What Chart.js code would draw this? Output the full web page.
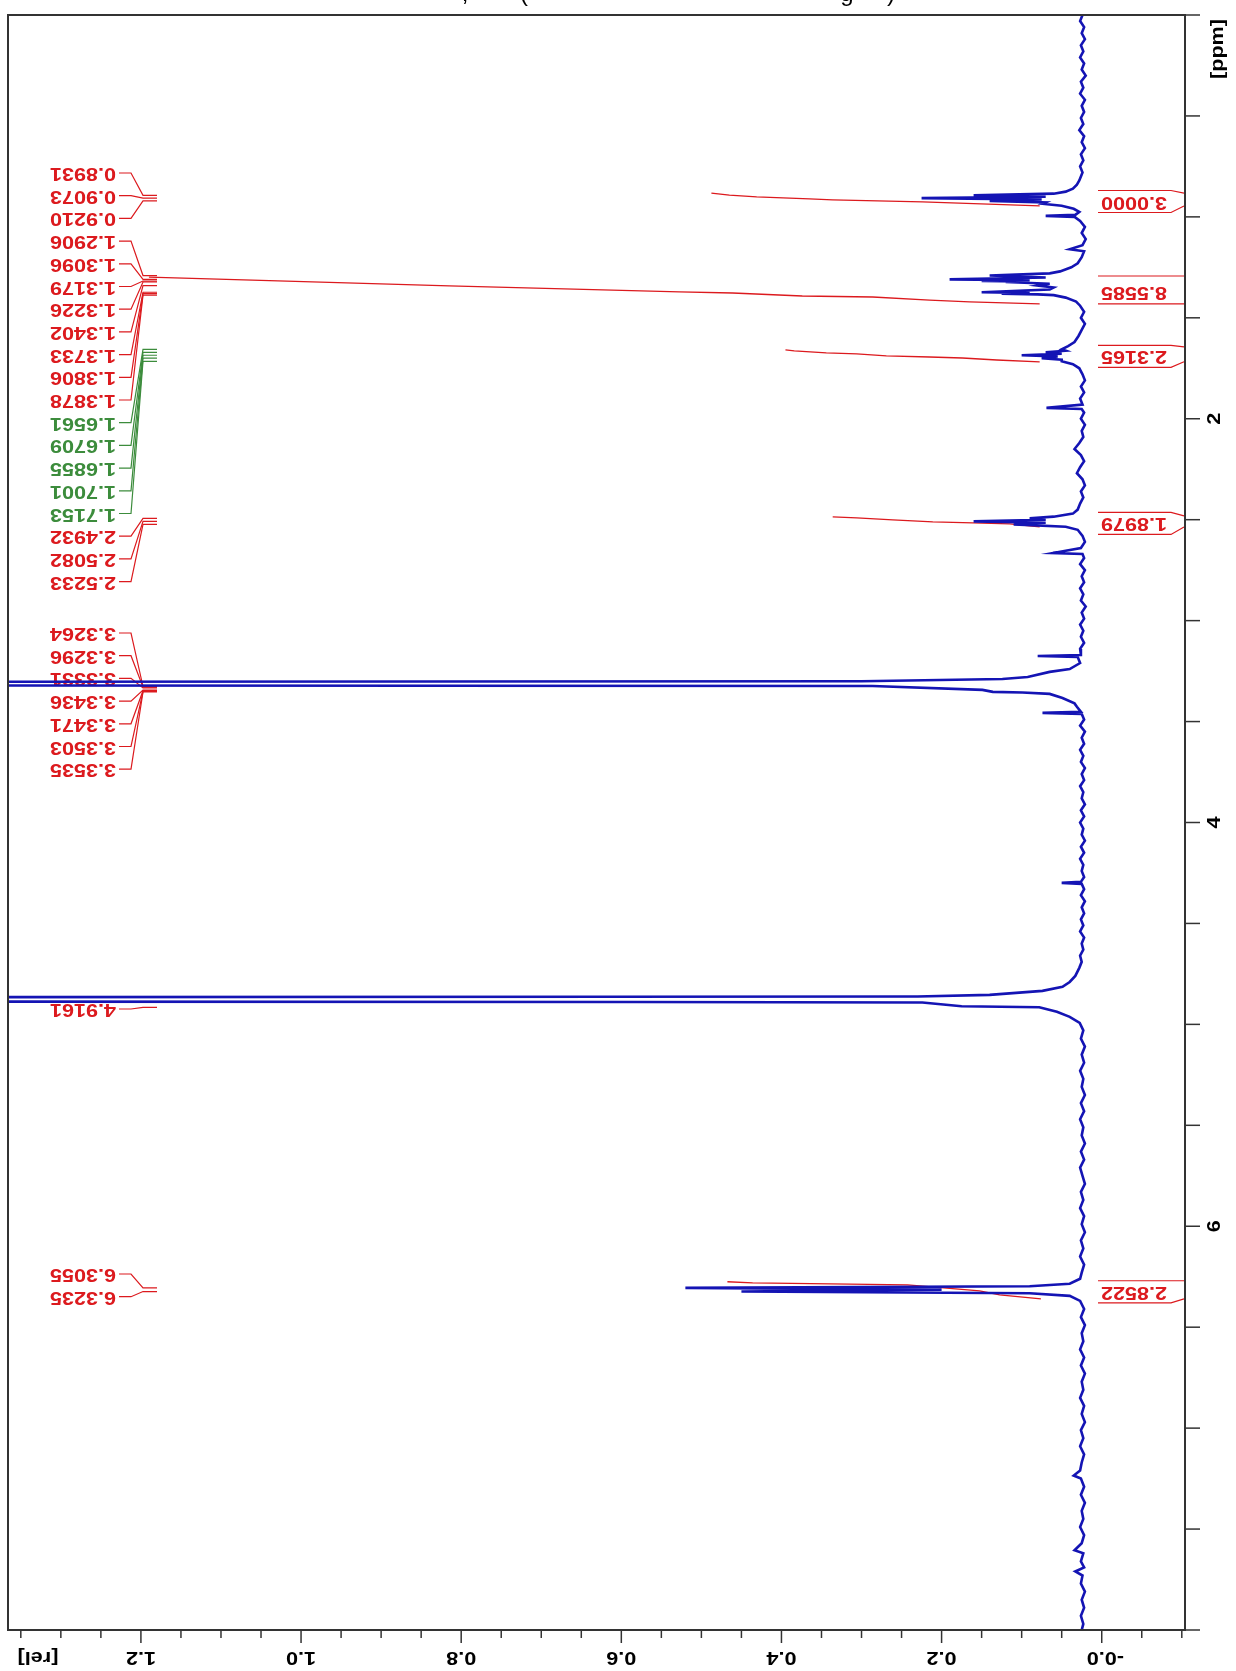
<!DOCTYPE html>
<html>
<head>
<meta charset="utf-8">
<script src="https://cdn.jsdelivr.net/npm/chart.js@4.4.1/dist/chart.umd.min.js"></script>
<style>
  html, body { margin: 0; padding: 0; background: #fff; }
  canvas { display: block; }
</style>
</head>
<body>
<canvas id="chart" width="1236" height="1671"></canvas>
<script>
// spectrum trace: chemical shift (ppm) and relative intensity
const specPpm = [
  0.00, 0.03, 0.06, 0.09, 0.12, 0.15, 0.18, 0.21, 0.24, 0.27,
  0.30, 0.33, 0.36, 0.39, 0.42, 0.45, 0.48, 0.51, 0.54, 0.57,
  0.60, 0.63, 0.66, 0.69, 0.72, 0.75, 0.78, 0.80, 0.82, 0.84,
  0.86, 0.875, 0.885, 0.8931, 0.900, 0.9073, 0.914, 0.9210, 0.928, 0.935,
  0.945, 0.96, 0.975, 0.99, 0.995, 1.00,
  1.02, 1.05, 1.08, 1.11, 1.14, 1.16, 1.17, 1.20, 1.23, 1.25,
  1.27, 1.28, 1.2906, 1.300, 1.3096, 1.314, 1.3179, 1.320, 1.3226, 1.331,
  1.3402, 1.350, 1.360, 1.3733, 1.377, 1.3806, 1.384, 1.3878, 1.40, 1.42,
  1.44, 1.47, 1.50, 1.53, 1.56, 1.59, 1.62, 1.64,
  1.6561, 1.663, 1.6709, 1.678, 1.6855, 1.692, 1.7001, 1.708, 1.7153, 1.73,
  1.75, 1.78, 1.81, 1.84, 1.87, 1.90, 1.93, 1.946, 1.952, 1.97,
  2.00, 2.03, 2.06, 2.09, 2.12, 2.15, 2.18, 2.21, 2.24, 2.27,
  2.30, 2.33, 2.36, 2.39, 2.42, 2.45, 2.47,
  2.485, 2.4932, 2.500, 2.5082, 2.515, 2.5233, 2.535, 2.55,
  2.58, 2.61, 2.64, 2.665, 2.67, 2.69, 2.72, 2.75, 2.78, 2.81,
  2.84, 2.87, 2.90, 2.93, 2.96, 2.99, 3.02, 3.05, 3.08, 3.11,
  3.14, 3.170, 3.175, 3.18,
  3.21, 3.24, 3.254, 3.279, 3.289, 3.300, 3.312, 3.324, 3.343, 3.353,
  3.356, 3.363, 3.383, 3.41, 3.427, 3.452, 3.457, 3.462,
  3.49, 3.52, 3.55, 3.58, 3.61, 3.64, 3.67, 3.70, 3.73, 3.76,
  3.79, 3.82, 3.85, 3.88, 3.91, 3.94, 3.97, 4.00, 4.03, 4.06,
  4.09, 4.12, 4.15, 4.18, 4.21, 4.24, 4.27, 4.294, 4.299, 4.304,
  4.33, 4.36, 4.39, 4.42, 4.45, 4.48, 4.51, 4.54, 4.57, 4.60,
  4.63, 4.66, 4.69, 4.72,
  4.76, 4.79, 4.814, 4.834, 4.854, 4.862, 4.863, 4.876, 4.889, 4.892,
  4.910, 4.915, 4.938, 4.963, 4.993,
  5.03, 5.07, 5.11, 5.15, 5.19, 5.23, 5.27, 5.31, 5.35, 5.39,
  5.43, 5.47, 5.51, 5.55, 5.59, 5.63, 5.67, 5.71, 5.75, 5.79,
  5.83, 5.87, 5.91, 5.95, 5.99, 6.03, 6.07, 6.11, 6.15, 6.19,
  6.23, 6.26, 6.285, 6.297, 6.3055, 6.314, 6.3235, 6.332, 6.345, 6.37,
  6.41, 6.45, 6.49, 6.53, 6.57, 6.61, 6.65, 6.69, 6.73, 6.77,
  6.81, 6.85, 6.89, 6.93, 6.97, 7.01, 7.05, 7.09, 7.13, 7.17,
  7.21, 7.235, 7.25, 7.29, 7.33, 7.37, 7.41, 7.45, 7.49, 7.53,
  7.57, 7.605, 7.62, 7.66, 7.69, 7.71, 7.73, 7.77, 7.81, 7.85,
  7.89, 7.93, 7.97, 8.00
];
const specInt = [
  0.024, 0.027, 0.022, 0.025, 0.021, 0.026, 0.023, 0.027, 0.022, 0.025,
  0.020, 0.026, 0.023, 0.027, 0.021, 0.025, 0.022, 0.026, 0.023, 0.028,
  0.022, 0.025, 0.021, 0.026, 0.023, 0.027, 0.024, 0.026, 0.028, 0.031,
  0.036, 0.045, 0.060, 0.160, 0.070, 0.225, 0.075, 0.140, 0.070, 0.074,
  0.050, 0.035, 0.028, 0.033, 0.070, 0.034,
  0.027, 0.021, 0.025, 0.020, 0.024, 0.040, 0.022, 0.025, 0.030, 0.038,
  0.052, 0.065, 0.140, 0.070, 0.190, 0.090, 0.150, 0.100, 0.120, 0.065,
  0.080, 0.060, 0.065, 0.150, 0.090, 0.125, 0.080, 0.060, 0.045, 0.032,
  0.027, 0.022, 0.026, 0.021, 0.025, 0.029, 0.034, 0.042,
  0.050, 0.045, 0.070, 0.050, 0.100, 0.055, 0.075, 0.050, 0.050, 0.036,
  0.028, 0.024, 0.021, 0.026, 0.022, 0.027, 0.024, 0.069, 0.025, 0.022,
  0.026, 0.021, 0.025, 0.023, 0.028, 0.034, 0.026, 0.022, 0.027, 0.031,
  0.024, 0.021, 0.026, 0.023, 0.027, 0.030, 0.036,
  0.060, 0.090, 0.070, 0.160, 0.070, 0.110, 0.045, 0.030,
  0.024, 0.021, 0.026, 0.061, 0.024, 0.022, 0.027, 0.021, 0.025, 0.022,
  0.027, 0.023, 0.026, 0.020, 0.025, 0.022, 0.027, 0.023, 0.026, 0.022,
  0.027, 0.026, 0.080, 0.030,
  0.027, 0.040, 0.065, 0.0925, 0.124, 0.300, 5.0, 0.286, 0.149, 0.136,
  0.099, 0.065, 0.049, 0.034, 0.031, 0.026, 0.074, 0.025,
  0.022, 0.027, 0.021, 0.025, 0.022, 0.027, 0.023, 0.026, 0.021, 0.025,
  0.022, 0.027, 0.023, 0.025, 0.021, 0.026, 0.022, 0.027, 0.023, 0.025,
  0.021, 0.026, 0.022, 0.027, 0.023, 0.025, 0.022, 0.026, 0.050, 0.025,
  0.022, 0.026, 0.021, 0.025, 0.022, 0.026, 0.023, 0.027, 0.022, 0.025,
  0.023, 0.027, 0.025, 0.028,
  0.033, 0.040, 0.049, 0.074, 0.140, 0.230, 0.616, 6.0, 0.580, 0.224,
  0.175, 0.078, 0.056, 0.040, 0.0275,
  0.023, 0.026, 0.021, 0.025, 0.022, 0.027, 0.023, 0.025, 0.021, 0.026,
  0.022, 0.027, 0.023, 0.025, 0.021, 0.026, 0.022, 0.027, 0.024, 0.021,
  0.026, 0.023, 0.027, 0.022, 0.025, 0.021, 0.026, 0.023, 0.027, 0.022,
  0.025, 0.027, 0.040, 0.090, 0.520, 0.200, 0.450, 0.090, 0.040, 0.027,
  0.022, 0.026, 0.021, 0.025, 0.023, 0.027, 0.022, 0.026, 0.021, 0.025,
  0.023, 0.027, 0.022, 0.025, 0.021, 0.026, 0.023, 0.027, 0.022, 0.025,
  0.027, 0.035, 0.026, 0.022, 0.026, 0.021, 0.025, 0.023, 0.027, 0.022,
  0.025, 0.034, 0.023, 0.026, 0.022, 0.033, 0.024, 0.026, 0.021, 0.025,
  0.022, 0.026, 0.023, 0.025
];

// integral curves (running integral, drawn on the intensity scale)
const int1Ppm = [0.882, 0.892, 0.901, 0.911, 0.916, 0.926, 0.946];
const int1Val = [0.4875, 0.465, 0.431, 0.365, 0.336, 0.224, 0.0775];
const int2Ppm = [1.298, 1.313, 1.342, 1.372, 1.377, 1.392, 1.397, 1.412, 1.421, 1.431];
const int2Val = [1.19, 1.061, 0.815, 0.5275, 0.461, 0.374, 0.286, 0.215, 0.165, 0.0775];
const int3Ppm = [1.659, 1.664, 1.674, 1.679, 1.689, 1.694, 1.699, 1.709, 1.718];
const int3Val = [0.395, 0.384, 0.344, 0.306, 0.269, 0.215, 0.174, 0.131, 0.0775];
const int4Ppm = [2.486, 2.491, 2.501, 2.511, 2.516, 2.521, 2.536];
const int4Val = [0.336, 0.306, 0.261, 0.211, 0.161, 0.115, 0.0775];
const int5Ppm = [6.275, 6.280, 6.290, 6.320, 6.340, 6.360];
const int5Val = [0.4675, 0.436, 0.2425, 0.1525, 0.1275, 0.076];

// integral values and their ppm limits
const integralText = ['3.0000', '8.5585', '2.3165', '1.8979', '2.8522'];
const integralFrom = [0.882, 1.293, 1.644, 2.481, 6.270];
const integralTo   = [0.946, 1.431, 1.718, 2.536, 6.360];

// peak picking list
const peakPpm = [
  0.8931, 0.9073, 0.9210, 1.2906, 1.3096, 1.3179, 1.3226, 1.3402, 1.3733, 1.3806,
  1.3878, 1.6561, 1.6709, 1.6855, 1.7001, 1.7153, 2.4932, 2.5082, 2.5233,
  3.3264, 3.3296, 3.3331, 3.3436, 3.3471, 3.3503, 3.3535,
  4.9161, 6.3055, 6.3235
];
const greenPeaks = [1.6561, 1.6709, 1.6855, 1.7001, 1.7153];

// axis ticks
const intTickVals = [0, 0.2, 0.4, 0.6, 0.8, 1.0, 1.2];
const intTickText = ['-0.0', '0.2', '0.4', '0.6', '0.8', '1.0', '1.2'];
const ppmTickVals = [2, 4, 6];
const ppmTickText = ['2', '4', '6'];

// label rows: [first peak index, end index, y of first row]
const labelGroups = [[0, 19, 173], [19, 26, 633], [26, 27, 1009], [27, 29, 1274]];
const ROW = 22.7;

const RED = '#dc1a1e';
const GREEN = '#3c8c3c';
const BLUE = '#1414b4';
const FONT = 'bold 18px "Liberation Sans", Arial, sans-serif';

function pts(ys, xs) {
  return ys.map((y, i) => ({ x: xs[i], y: y }));
}

function rotText(ctx, txt, x, y, angle, align, dx) {
  ctx.save();
  ctx.translate(x, y);
  ctx.rotate(angle);
  ctx.scale(1.2, 1);
  ctx.textAlign = align;
  ctx.textBaseline = 'middle';
  ctx.fillText(txt, dx || 0, 0);
  ctx.restore();
}

function line(ctx, x1, y1, x2, y2) {
  ctx.beginPath();
  ctx.moveTo(x1, y1);
  ctx.lineTo(x2, y2);
  ctx.stroke();
}

const decor = {
  id: 'decor',
  beforeDatasetsDraw(chart) {
    const ctx = chart.ctx;
    const ys = chart.scales.y;
    ctx.save();
    ctx.font = FONT;
    ctx.lineWidth = 1.2;
    // peak labels, upside down, on the left
    labelGroups.forEach(([a, b, top]) => {
      for (let i = a; i < b; i++) {
        const col = greenPeaks.includes(peakPpm[i]) ? GREEN : RED;
        const ry = top + (i - a) * ROW;
        const py = ys.getPixelForValue(peakPpm[i]);
        ctx.fillStyle = col;
        ctx.strokeStyle = col;
        rotText(ctx, peakPpm[i].toFixed(4), 116, ry, Math.PI, 'left');
        ctx.beginPath();
        ctx.moveTo(119, ry);
        ctx.lineTo(131, ry);
        ctx.lineTo(143, py);
        ctx.lineTo(157, py);
        ctx.stroke();
      }
    });
    // integral values on the right, between baseline and axis
    ctx.fillStyle = RED;
    ctx.strokeStyle = RED;
    integralText.forEach((t, i) => {
      const y1 = ys.getPixelForValue(integralFrom[i]);
      const y2 = ys.getPixelForValue(integralTo[i]);
      const cy = (y1 + y2) / 2 + 2;
      const top = Math.min(y1, cy - 11);
      const bot = Math.max(y2, cy + 11);
      rotText(ctx, t, 1134, cy, Math.PI, 'center');
      ctx.beginPath();
      ctx.moveTo(1098, top); ctx.lineTo(1171, top); ctx.lineTo(1184, y1);
      ctx.moveTo(1098, bot); ctx.lineTo(1171, bot); ctx.lineTo(1184, y2);
      ctx.stroke();
    });
    ctx.restore();
  },
  afterDraw(chart) {
    const ctx = chart.ctx;
    const a = chart.chartArea;
    const xs = chart.scales.x;
    const ys = chart.scales.y;
    ctx.save();
    ctx.strokeStyle = '#333';
    ctx.lineWidth = 2;
    ctx.strokeRect(a.left, a.top, a.right - a.left, a.bottom - a.top);
    ctx.fillStyle = '#000';
    ctx.font = FONT;
    // intensity axis (bottom)
    ctx.lineWidth = 1.5;
    for (let k = -2; k <= 27; k++) {
      const px = xs.getPixelForValue(k * 0.05);
      line(ctx, px, a.bottom, px, a.bottom + (k % 4 === 0 ? 13 : 8));
    }
    intTickVals.forEach((v, i) => {
      const txt = intTickText[i];
      const w = ctx.measureText(txt.replace('-', '')).width;
      rotText(ctx, txt, xs.getPixelForValue(v), 1657, Math.PI, 'right', w / 2);
    });
    rotText(ctx, '[rel]', 38, 1657, Math.PI, 'center');
    // ppm axis (right)
    for (let k = 0; k <= 16; k++) {
      const py = ys.getPixelForValue(k * 0.5);
      line(ctx, a.right, py, a.right + 15, py);
    }
    ppmTickVals.forEach((v, i) => {
      rotText(ctx, ppmTickText[i], 1215, ys.getPixelForValue(v), -Math.PI / 2, 'center');
    });
    rotText(ctx, '[ppm]', 1218, 49, -Math.PI / 2, 'center');
    // title, cut off by the top edge
    ctx.font = '24px "Liberation Sans", Arial, sans-serif';
    ctx.textAlign = 'center';
    ctx.textBaseline = 'alphabetic';
    ctx.fillText(',', 465, 1);
    ctx.fillText('(', 524, 1);
    ctx.fillText('g', 847, 1);
    ctx.fillText(')', 891, 1);
    ctx.restore();
  }
};

const intStyle = {
  showLine: true, borderColor: RED, borderWidth: 1.3,
  pointRadius: 0, tension: 0
};

new Chart(document.getElementById('chart'), {
  type: 'scatter',
  data: {
    datasets: [
      { data: pts(specPpm, specInt), showLine: true, borderColor: BLUE,
        borderWidth: 2.6, pointRadius: 0, tension: 0 },
      Object.assign({ data: pts(int1Ppm, int1Val) }, intStyle),
      Object.assign({ data: pts(int2Ppm, int2Val) }, intStyle),
      Object.assign({ data: pts(int3Ppm, int3Val) }, intStyle),
      Object.assign({ data: pts(int4Ppm, int4Val) }, intStyle),
      Object.assign({ data: pts(int5Ppm, int5Val) }, intStyle)
    ]
  },
  options: {
    responsive: false,
    devicePixelRatio: 1,
    animation: false,
    events: [],
    layout: { padding: { left: 8, right: 51, top: 15, bottom: 41 } },
    plugins: { legend: { display: false }, tooltip: { enabled: false } },
    scales: {
      x: { type: 'linear', reverse: true, min: -0.104, max: 1.366, display: false },
      y: { type: 'linear', reverse: true, min: 0, max: 8, display: false }
    }
  },
  plugins: [decor]
});
</script>
</body>
</html>
